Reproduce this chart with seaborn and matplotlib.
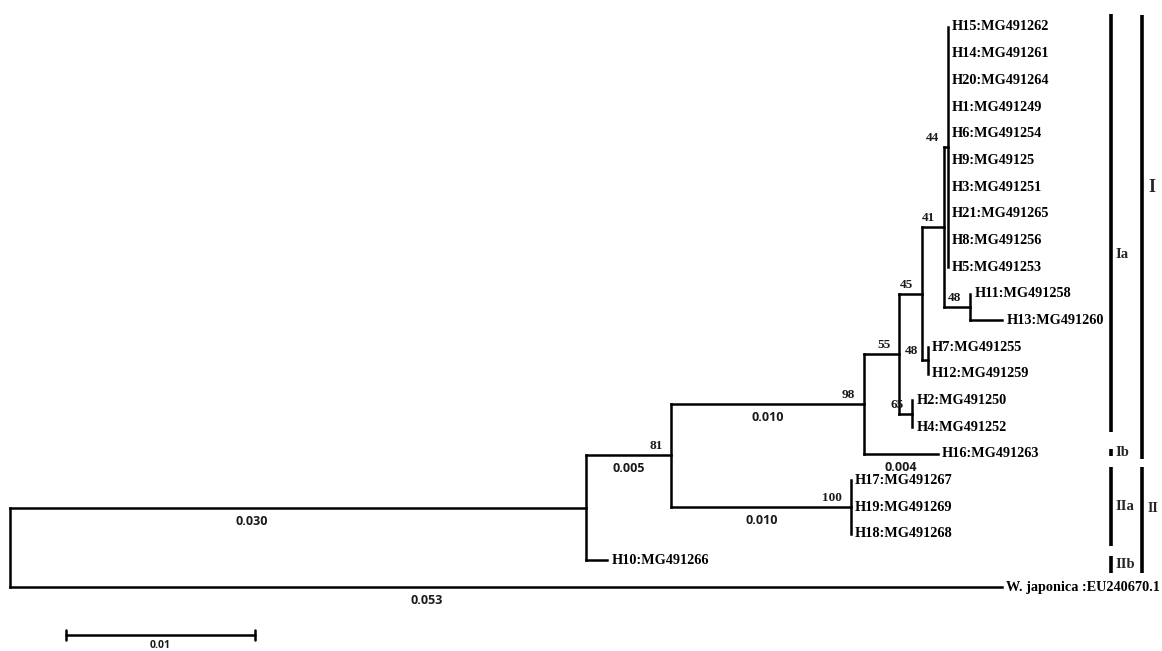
import matplotlib
matplotlib.use('Agg')
import matplotlib.pyplot as plt
import numpy as np
import pandas as pd
import seaborn as sns

# ─────────────────────────────────────────────────────────────────────────────
# Tree data (branch lengths, 0.01 = scale bar)
# ─────────────────────────────────────────────────────────────────────────────
OUTGROUP = 'W. japonica :EU240670.1'
TOP_CLADE = ['H15:MG491262', 'H14:MG491261', 'H20:MG491264', 'H1:MG491249',
             'H6:MG491254', 'H9:MG49125', 'H3:MG491251', 'H21:MG491265',
             'H8:MG491256', 'H5:MG491253']

# edges listed parent -> child, children in top-to-bottom order
EDGE_PARENT = ['root', 'root', 'A', 'A', 'B', 'B', 'D', 'D', 'E', 'E',
               'F', 'F', 'H', 'H', 'K', 'K', 'I', 'I', 'G', 'G',
               'C', 'C', 'C'] + ['J'] * len(TOP_CLADE)
EDGE_CHILD = ['A', OUTGROUP, 'B', 'H10:MG491266', 'D', 'C', 'E', 'H16:MG491263',
              'F', 'G', 'H', 'I', 'J', 'K', 'H11:MG491258', 'H13:MG491260',
              'H7:MG491255', 'H12:MG491259', 'H2:MG491250', 'H4:MG491252',
              'H17:MG491267', 'H19:MG491269', 'H18:MG491268'] + TOP_CLADE
EDGE_LEN = [0.0305, 0.0525, 0.0045, 0.0011, 0.0102, 0.0095, 0.00185, 0.0039,
            0.0012, 0.0007, 0.00116, 0.0003, 0.0002, 0.0014, 0.0, 0.0017,
            0.0, 0.0, 0.0, 0.0, 0.0, 0.0, 0.0] + [0.0] * len(TOP_CLADE)

SUPPORT_NODE = ['B', 'C', 'D', 'E', 'F', 'G', 'H', 'I', 'J', 'K']
SUPPORT_VAL = [81, 100, 98, 55, 45, 65, 41, 48, 44, 48]

LENLAB_NODE = ['A', OUTGROUP, 'B', 'D', 'C', 'H16:MG491263']
LENLAB_TEXT = ['0.030', '0.053', '0.005', '0.010', '0.010', '0.004']

SUBCLADES = ['Ia', 'Ib', 'IIa', 'IIb']
CLADES = ['I', 'II']
SCALE_LEN = 0.01

# ─────────────────────────────────────────────────────────────────────────────
# Layout (pixel geometry of the 1162x651 canvas)
# ─────────────────────────────────────────────────────────────────────────────
W, H = 1162, 651
PX_PER_UNIT = 18900.0      # 189 px per 0.01
X0_PX = 10                 # root position
Y0_PX, DY_PX = 27, 26.67   # first tip, tip spacing


def px_x(px):
    return (px - X0_PX) / PX_PER_UNIT


def px_y(px):
    return (px - Y0_PX) / DY_PX


# ─────────────────────────────────────────────────────────────────────────────
# Build coordinates
# ─────────────────────────────────────────────────────────────────────────────
children = {}
blen = {}
for p, c, l in zip(EDGE_PARENT, EDGE_CHILD, EDGE_LEN):
    children.setdefault(p, []).append(c)
    blen[c] = l

xpos, ypos = {'root': 0.0}, {}
leaf_order = []


def layout(node):
    for c in children.get(node, []):
        xpos[c] = xpos[node] + blen[c]
        layout(c)
    if node in children:
        kids = children[node]
        ypos[node] = (ypos[kids[0]] + ypos[kids[-1]]) / 2.0
    else:
        ypos[node] = float(len(leaf_order))
        leaf_order.append(node)


layout('root')

rows = []
seg = 0
for node, kids in children.items():
    rows += [(seg, xpos[node], ypos[kids[0]]), (seg, xpos[node], ypos[kids[-1]])]
    seg += 1
    for c in kids:
        if blen[c] > 0:
            rows += [(seg, xpos[node], ypos[c]), (seg, xpos[c], ypos[c])]
            seg += 1
segs = pd.DataFrame(rows, columns=['seg', 'x', 'y'])

# ─────────────────────────────────────────────────────────────────────────────
# Plot
# ─────────────────────────────────────────────────────────────────────────────
sns.set_style('white')
plt.rcParams['font.family'] = ['Liberation Serif', 'DejaVu Serif']

fig = plt.figure(figsize=(W / 100, H / 100), dpi=100)
ax = fig.add_axes([0, 0, 1, 1])
ax.set_xlim(px_x(0), px_x(W))
ax.set_ylim(px_y(H), px_y(0))
ax.axis('off')

sns.lineplot(data=segs, x='x', y='y', units='seg', estimator=None, sort=False,
             color='black', lw=1.8, ax=ax, legend=False,
             solid_capstyle='projecting')

# tip labels
lab_dx = px_x(X0_PX + 4)
for leaf in leaf_order:
    ax.text(xpos[leaf] + lab_dx, ypos[leaf], leaf, ha='left', va='center',
            fontsize=10.3, fontweight='bold', color='black')

# bootstrap values
for node, val in zip(SUPPORT_NODE, SUPPORT_VAL):
    ax.text(xpos[node] - px_x(X0_PX + 9), ypos[node] - 3 / DY_PX, str(val),
            ha='right', va='bottom', fontsize=9.5, fontweight='bold',
            color='#1a1a1a')

# branch length labels
for node, txt in zip(LENLAB_NODE, LENLAB_TEXT):
    frac = 0.42 if blen[node] > 0.02 else 0.5
    xm = xpos[node] - blen[node] * (1 - frac)
    ax.text(xm, ypos[node] + 7 / DY_PX, txt, ha='center', va='top',
            fontsize=9, fontweight='bold', family='Open Sans', color='#1a1a1a')

# clade bars
sub_span = [(14, 432), (449, 456), (467, 546), (556, 573)]
sub_laby = [255, 452, 506, 565]
for name, (a, b), ly in zip(SUBCLADES, sub_span, sub_laby):
    ax.vlines(px_x(1110.5), px_y(a), px_y(b), color='black', lw=2.6)
    ax.text(px_x(1115), px_y(ly), name, ha='left', va='center',
            fontsize=10.5, fontweight='bold')

cl_span = [(15, 459), (467, 573)]
cl_laby = [188, 509]
cl_size = [13, 10]
for name, (a, b), ly, fs in zip(CLADES, cl_span, cl_laby, cl_size):
    ax.vlines(px_x(1142), px_y(a), px_y(b), color='black', lw=2.6)
    ax.text(px_x(1148), px_y(ly), name, ha='left', va='center',
            fontsize=fs, fontweight='bold')

# scale bar
sb_x0 = px_x(66)
sb_y = px_y(635)
ax.plot([sb_x0, sb_x0 + SCALE_LEN], [sb_y, sb_y], color='black', lw=1.8)
for xx in (sb_x0, sb_x0 + SCALE_LEN):
    ax.plot([xx, xx], [sb_y - 5 / DY_PX, sb_y + 5 / DY_PX], color='black', lw=1.8)
ax.text(sb_x0 + SCALE_LEN / 2, px_y(640), '0.01', ha='center', va='top',
        fontsize=7.5, fontweight='bold', family='Open Sans', color='#1a1a1a')

fig.savefig('out.png', dpi=100)
plt.close(fig)
